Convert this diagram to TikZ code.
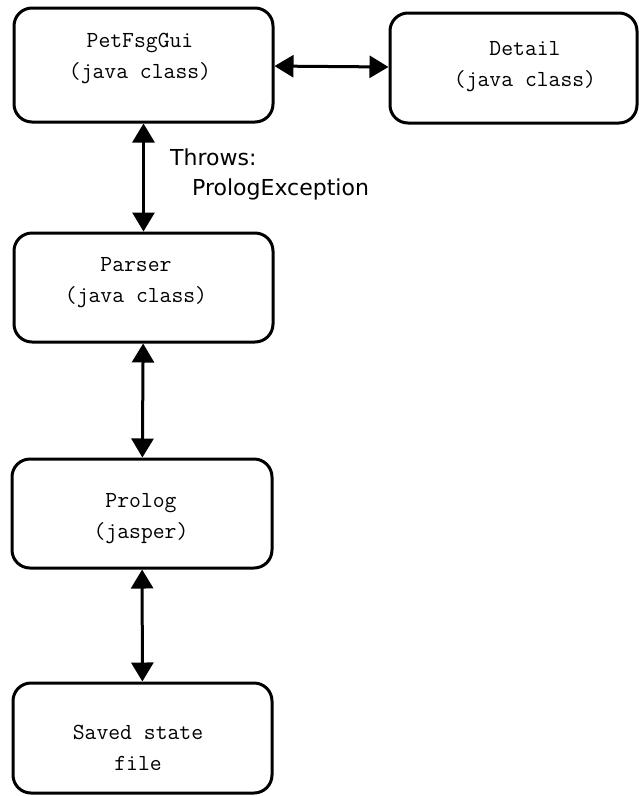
\documentclass[tikz,border=0pt]{standalone}
\usepackage{fontspec}
\usetikzlibrary{arrows.meta}
\newfontfamily\notefont{DejaVu Sans}
\tikzset{
  classbox/.style={draw, line width=3pt, rounded corners=18pt, inner sep=0pt},
  boxtext/.style={font=\ttfamily\fontsize{23}{31}\selectfont, align=center, inner sep=0pt},
  notetext/.style={font=\notefont\fontsize{22}{28}\selectfont, inner sep=0pt, anchor=base west},
  link/.style={line width=3pt,
    {Triangle[length=19pt,width=22pt]}-{Triangle[length=19pt,width=22pt]}},
}
\begin{document}
\begin{tikzpicture}[x=1pt, y=-1pt]
  \useasboundingbox (0,0) rectangle (639,796);

  % class boxes
  \node[classbox, minimum width=259pt, minimum height=114pt] (pet) at (143.5,65) {};
  \node[classbox, minimum width=247pt, minimum height=110pt] (det) at (513.5,68) {};
  \node[classbox, minimum width=259pt, minimum height=109pt] (par) at (143.5,287.5) {};
  \node[classbox, minimum width=260pt, minimum height=109pt] (pro) at (142,513.5) {};
  \node[classbox, minimum width=259pt, minimum height=110pt] (sav) at (142.5,738) {};

  % box captions
  \node[boxtext] (petT) at (140,58) {PetFsgGui\\(java class)};
  \node[boxtext] (detT) at (525,67) {Detail\\(java class)};
  \node[boxtext] (parT) at (136,283) {Parser\\(java class)};
  \node[boxtext] (proT) at (141,519) {Prolog\\(jasper)};
  \node[boxtext] (savT) at (138,748) {Saved state\\file};

  % connections
  \draw[link] (pet) -- (det);
  \draw[link] (pet) -- (par);
  \draw[link] (par) -- (pro);
  \draw[link] (pro) -- (sav);

  % exception note
  \node[notetext] (thr) at (170,165) {Throws:};
  \node[notetext] (exc) at (192,195) {PrologException};
\end{tikzpicture}
\end{document}
